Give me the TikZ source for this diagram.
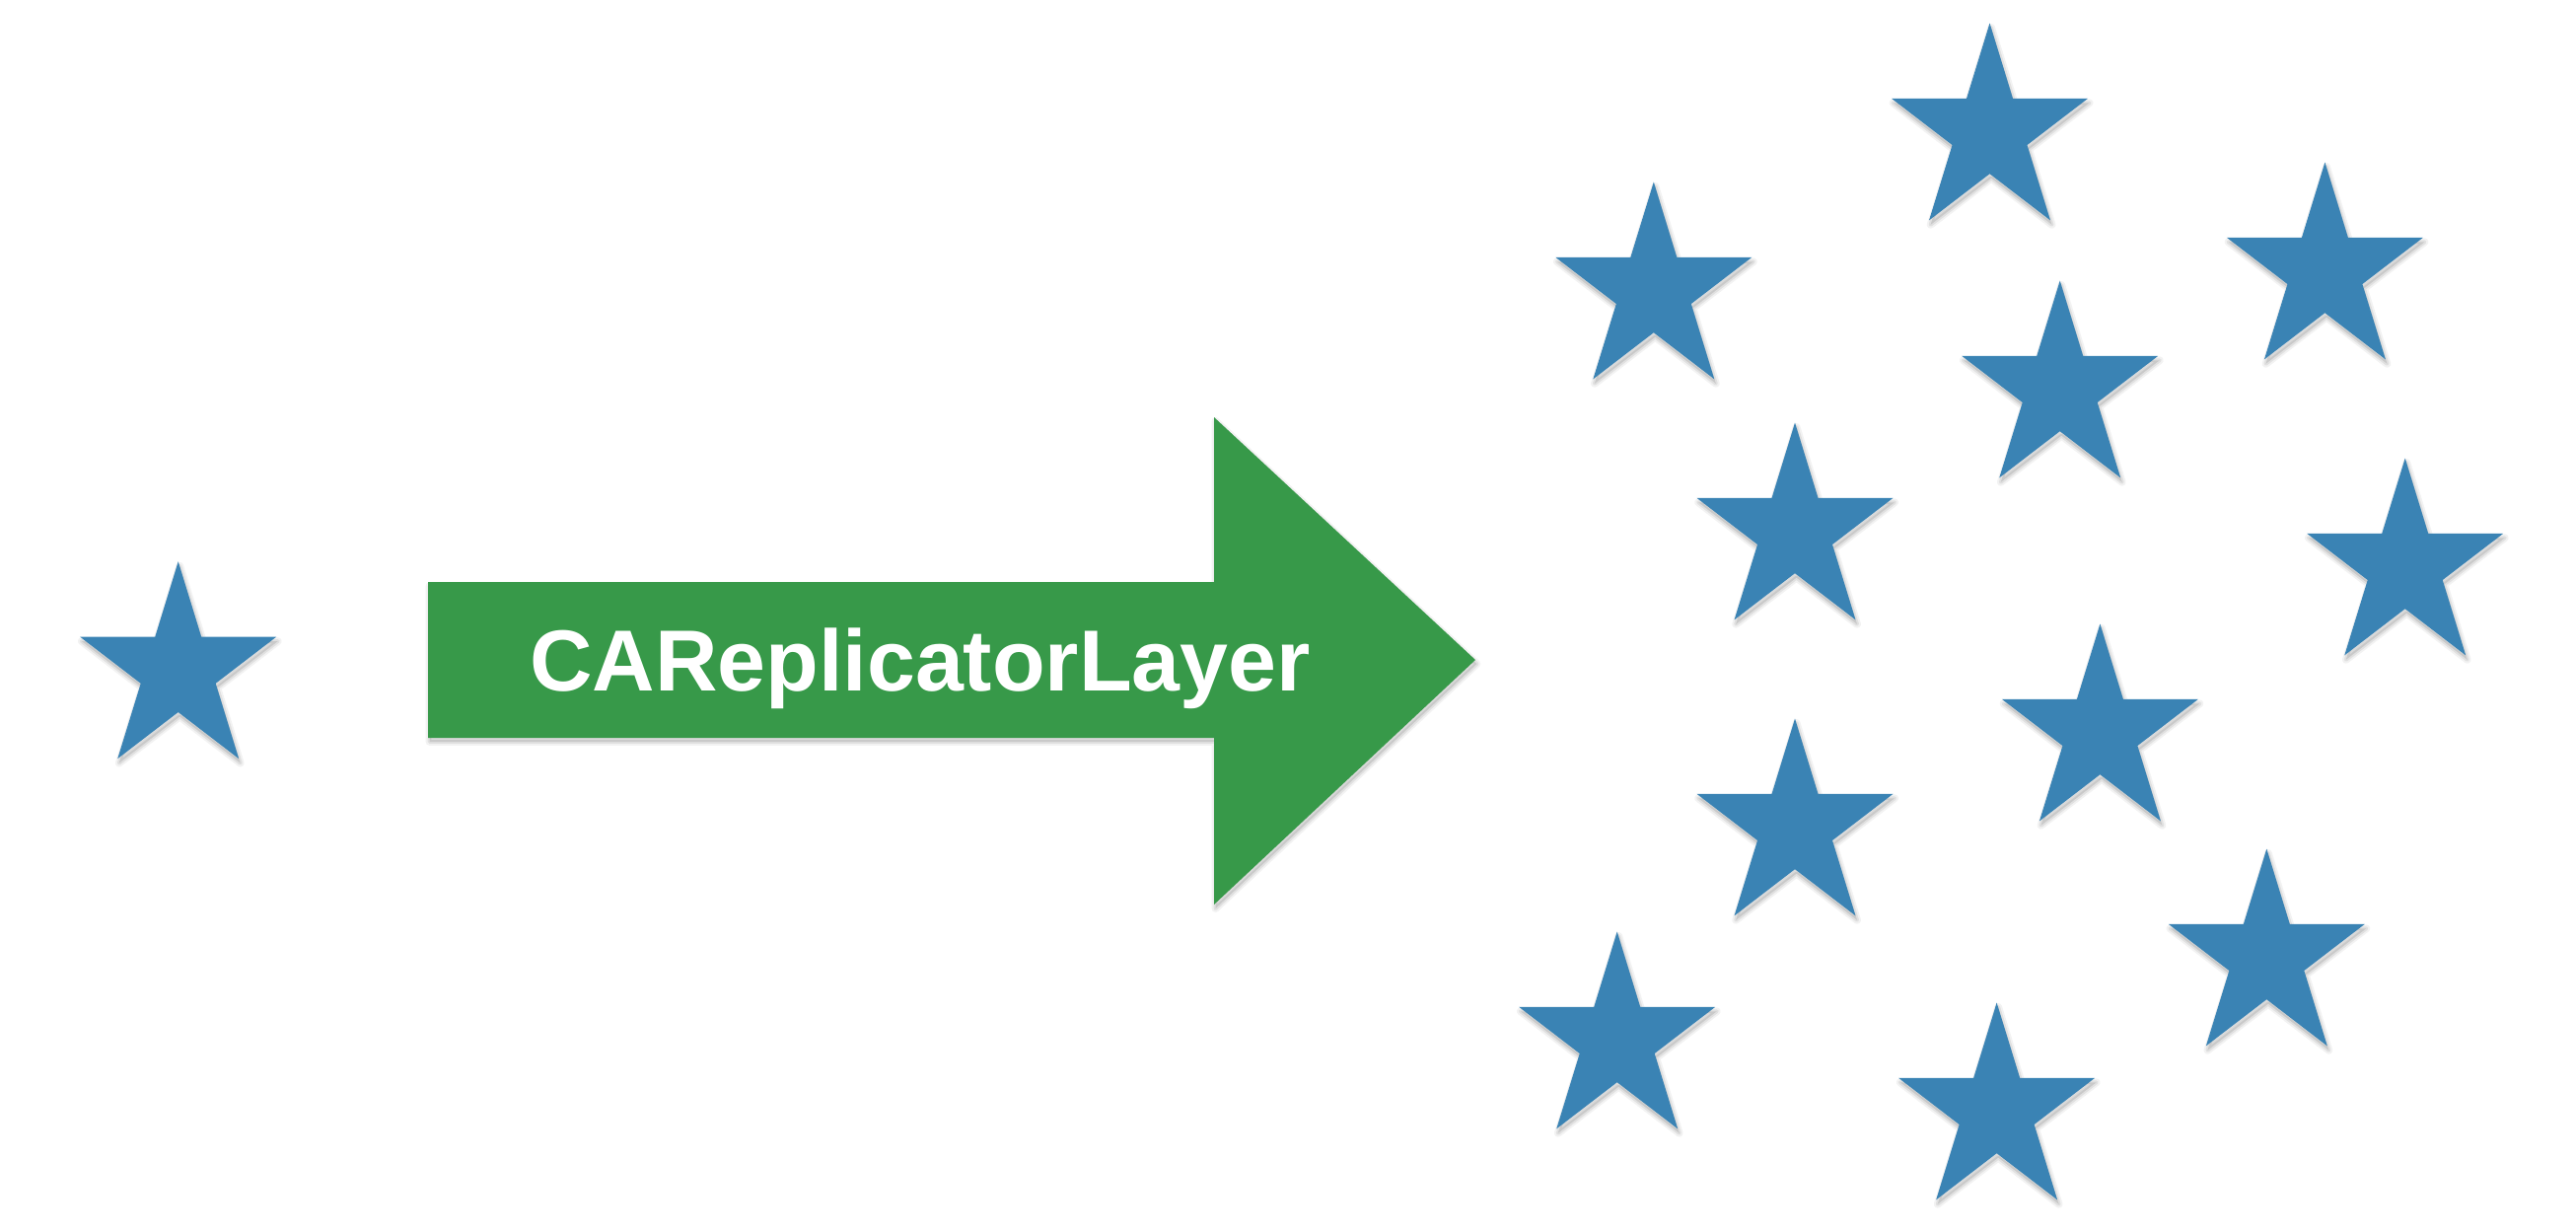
\documentclass[tikz,border=0pt]{standalone}
\usepackage{fontspec}
\setmainfont{Liberation Sans}
\definecolor{starblue}{RGB}{58,131,180}
\definecolor{arrowgreen}{RGB}{55,153,73}
\newcommand\mystarpath{(0,-100) -- (22.45,-30.90) -- (95.11,-30.90) -- (36.33,11.80)
      -- (58.78,80.90) -- (0,38.2) -- (-58.78,80.90) -- (-36.33,11.80)
      -- (-95.11,-30.90) -- (-22.45,-30.90) -- cycle}
\newcommand\myarrowpath{(434,590) -- (1231,590) -- (1231,423) -- (1496,669)
    -- (1231,917) -- (1231,748) -- (434,748) -- cycle}
\tikzset{
  shadowwide/.style={draw=black, line width=2.2pt, draw opacity=0.05, fill=black, fill opacity=0.10, line join=round},
  shadowmid/.style={draw=black, line width=1.1pt, draw opacity=0.07, line join=round},
  starfill/.style={fill=starblue},
  arrowfill/.style={fill=arrowgreen},
  labeltext/.style={text=white, font=\bfseries\fontsize{25}{30}\selectfont, inner sep=0pt, anchor=base},
  pics/bstar/.style={code={
    \begin{scope}[shift={(1.5,4)}]
      \path[shadowwide] \mystarpath;
      \path[shadowmid] \mystarpath;
    \end{scope}
    \path[starfill] \mystarpath;
  }}
}
\begin{document}
\begin{tikzpicture}[x=0.01cm, y=-0.01cm]
  \useasboundingbox[fill=white] (0,0) rectangle (2612,1248);
  % single star
  \pic[xscale=1.046, yscale=1.105] at (180.7,679.8) {bstar};
  % arrow
  \begin{scope}[shift={(1.5,4)}]
    \path[shadowwide] \myarrowpath;
    \path[shadowmid] \myarrowpath;
  \end{scope}
  \path[arrowfill] \myarrowpath;
  \node[labeltext] (label) at (933,700) {CAReplicatorLayer};
  % replicated stars
  \foreach \cx/\cy in {2017.5/134, 1676.8/295, 2357.4/275, 2088.7/395,
                       1820/539, 2438.7/575, 2129.4/743, 1820/839,
                       2298.3/971, 1639.7/1055, 2024.6/1127} {
    \pic[xscale=1.046, yscale=1.105] at (\cx,\cy) {bstar};
  }
\end{tikzpicture}
\end{document}
